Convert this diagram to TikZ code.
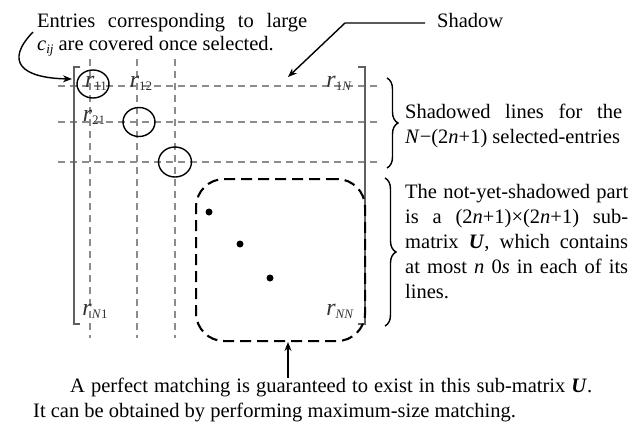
\documentclass[tikz,border=0pt]{standalone}
\usepackage{fontspec}
\setmainfont{Liberation Serif}
\usetikzlibrary{arrows.meta,shapes.geometric,decorations.pathreplacing}
\definecolor{shadegray}{HTML}{8C8C8C}
\definecolor{brackgray}{HTML}{606060}
\definecolor{labgray}{HTML}{333333}
\newcommand{\rlab}[1]{\textit{r}\raisebox{-0.35ex}{\fontsize{13}{13}\selectfont #1}}
\begin{document}
\begin{tikzpicture}[x=1pt,y=-1pt,
  txt/.style={inner sep=0pt,anchor=base west,font=\fontsize{20.5}{24}\selectfont},
  shade/.style={shadegray,line width=1.5pt,dash pattern=on 7pt off 5pt},
  brack/.style={brackgray,line width=1.4pt},
  lab/.style={inner sep=0pt,anchor=base,text=labgray,font=\fontsize{24}{24}\selectfont},
  arr/.style={-{Stealth[length=9pt,width=7pt]},line width=1.4pt},
  brace/.style={decorate,decoration={brace,amplitude=11pt},line width=1.4pt},
  dot/.style={circle,fill=black,inner sep=0pt,minimum size=7pt}]
\useasboundingbox (0,0) rectangle (640,426);
% shadow lines
\foreach \yy in {86,122,162} \draw[shade] (58,\yy) -- (380,\yy);
\foreach \xx in {90,137,175} \draw[shade] (\xx,59) -- (\xx,338);
% brackets
\draw[brack] (80,67) -- (74,67) -- (74,324) -- (80,324);
\draw[brack] (358,67) -- (365,67) -- (365,324) -- (358,324);
% labels
\node[lab] (r11) at (96,87) {\rlab{11}};
\node[lab] (r12) at (141,87) {\rlab{12}};
\node[lab] (r1N) at (339,87) {\rlab{1\textit{N}}};
\node[lab] (r21) at (94,121) {\rlab{21}};
\node[lab] (rN1) at (95,315) {\rlab{\textit{N}1}};
\node[lab] (rNN) at (340,315) {\rlab{\textit{NN}}};
% selected circles
\draw[line width=1.4pt] (93,84) ellipse [x radius=16, y radius=14];
\draw[line width=1.4pt] (139,122) ellipse [x radius=16, y radius=14.5];
\draw[line width=1.4pt] (175,162) ellipse [x radius=16.5, y radius=15];
% sub-matrix U
\node[draw=black,line width=2.1pt,dash pattern=on 11pt off 6pt,rounded corners=28pt,
  minimum width=169pt,minimum height=162pt,anchor=north west,inner sep=0pt] (U) at (195,178) {};
\node[dot] (d1) at (209,212) {};
\node[dot] (d2) at (240,244) {};
\node[dot] (d3) at (270,278) {};
% top-left text
\node[txt] (t1) at (37,27) {\makebox[270pt][s]{Entries corresponding to large}};
\node[txt] (t2) at (37,50) {\textit{c}\raisebox{-0.35ex}{\fontsize{13}{13}\selectfont\textit{ij}} are covered once selected.};
\coordinate (a0) at (33,32);
\coordinate (a1) at (72,79);
\draw[arr] (a0) .. controls (4,62) and (22,78) .. (a1);
% shadow callout
\node[txt] (sh) at (437,27) {Shadow};
\coordinate (s1) at (425,23);
\coordinate (s2) at (345,23);
\coordinate (s3) at (288,77);
\draw[arr] (s1) -- (s2) -- (s3);
% braces
\coordinate (b1t) at (387,78);
\coordinate (b1b) at (387,168);
\draw[brace] (b1t) -- (b1b);
\node[txt] (sl1) at (405,118) {\makebox[217pt][s]{Shadowed lines for the}};
\node[txt] (sl2) at (405,143) {\textit{N}−(2\textit{n}+1) selected-entries};
\coordinate (b2t) at (385,178);
\coordinate (b2b) at (385,326);
\draw[brace] (b2t) -- (b2b);
\node[txt] (u1) at (405,198) {\makebox[223pt][s]{The not-yet-shadowed part}};
\node[txt] (u2) at (405,223) {\makebox[223pt][s]{is a (2\textit{n}+1)×(2\textit{n}+1) sub-}};
\node[txt] (u3) at (405,248) {\makebox[223pt][s]{matrix \textbf{\textit{U}}, which contains}};
\node[txt] (u4) at (405,273) {\makebox[223pt][s]{at most \textit{n} 0\textit{s} in each of its}};
\node[txt] (u5) at (405,298) {lines.};
% bottom text
\node[txt] (m1) at (70,392) {\makebox[522pt][s]{A perfect matching is guaranteed to exist in this sub-matrix \textbf{\textit{U}}.}};
\node[txt] (m2) at (33,417) {It can be obtained by performing maximum-size matching.};
\coordinate (p1) at (288,378);
\draw[arr] (p1) -- (288,342);
\end{tikzpicture}
\end{document}
